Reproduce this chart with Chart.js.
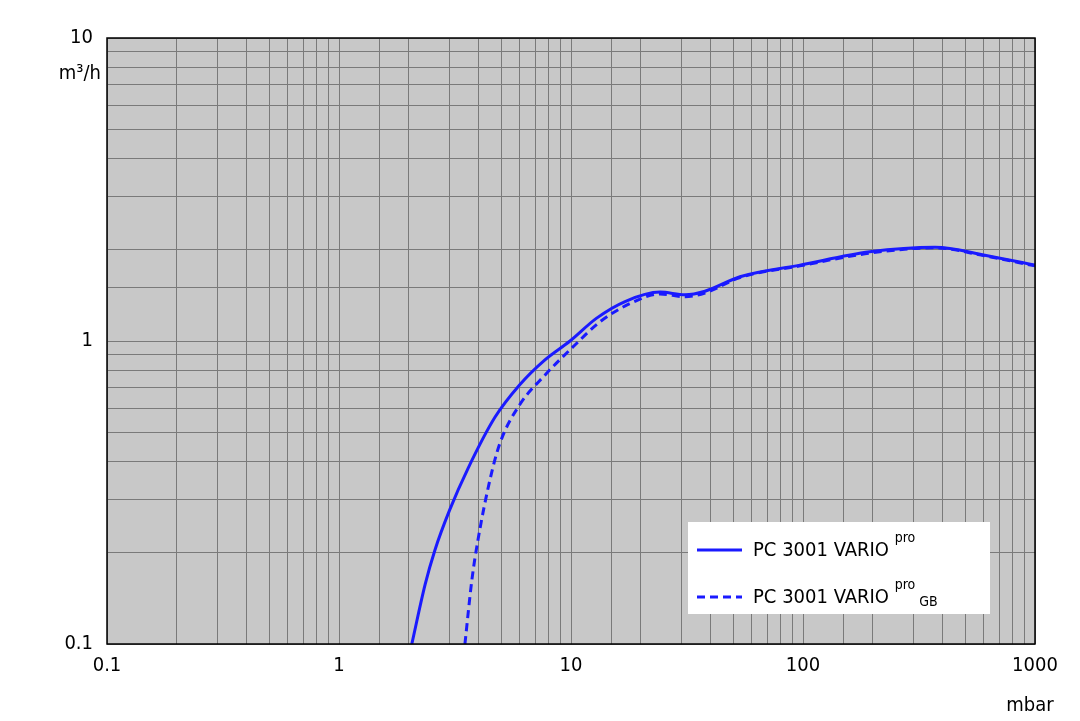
<!DOCTYPE html>
<html><head><meta charset="utf-8">
<script src="https://cdn.jsdelivr.net/npm/chart.js@4"></script>
<style>html,body{margin:0;background:#fff}#w{width:1080px;height:721px}</style>
</head><body><div id="w"><canvas id="c"></canvas></div>
<script>
const solidX=[2.06,2.35,2.59,3.0,3.6,4.7,6.0,7.7,9.9,12.9,17.1,24.2,31,37.8,53.5,97,194,371,608,1000];
const solidY=[0.1,0.157,0.204,0.277,0.38,0.56,0.716,0.865,1.0,1.19,1.35,1.45,1.42,1.46,1.63,1.78,1.97,2.04,1.92,1.78];
const gbX=[3.49,3.74,3.97,4.48,4.94,6.0,7.7,10.4,13.3,18,24.2,31,37.8,53.5,97,194,371,608,1000];
const gbY=[0.1,0.163,0.22,0.35,0.46,0.615,0.77,0.97,1.155,1.33,1.43,1.40,1.44,1.62,1.77,1.95,2.03,1.91,1.77];
const xTicks=[0.1,1,10,100,1000];
const yTicks=[0.1,1,10];
const FONT='"DejaVu Sans Condensed","Liberation Sans Narrow","DejaVu Sans",sans-serif';
const pts=(xs,ys)=>xs.map((x,i)=>({x,y:ys[i]}));
const deco={id:'deco',
 beforeDraw(ch){const a=ch.chartArea,c=ch.ctx;c.save();c.fillStyle='#c8c8c8';c.fillRect(a.left,a.top,a.right-a.left,a.bottom-a.top);c.restore();},
 afterDraw(ch){const a=ch.chartArea,c=ch.ctx;c.save();
  c.strokeStyle='#000';c.lineWidth=1.5;c.strokeRect(a.left,a.top,a.right-a.left,a.bottom-a.top);
  c.fillStyle='#000';c.font='20px '+FONT;c.textAlign='right';c.textBaseline='middle';
  c.fillText('m³/h',a.left-6,a.top+36);
  c.textAlign='center';c.fillText('mbar',a.right-5,a.bottom+62);
  const bx=688,by=522,bw=302,bh=92;c.fillStyle='#fff';c.fillRect(bx,by,bw,bh);
  c.strokeStyle='#1a1aff';c.lineWidth=3;
  c.beginPath();c.moveTo(697,550);c.lineTo(742,550);c.stroke();
  c.setLineDash([8,5]);c.beginPath();c.moveTo(697,597);c.lineTo(742,597);c.stroke();c.setLineDash([]);
  c.fillStyle='#000';c.textAlign='left';c.font='20px '+FONT;
  const t='PC 3001 VARIO ';const w=c.measureText(t).width;
  c.fillText(t,753,551);c.fillText(t,753,598);
  c.font='14px '+FONT;c.fillText('pro',753+w,538);c.fillText('pro',753+w,585);
  c.fillText('GB',753+w+c.measureText('pro ').width,602);
  c.restore();}};
new Chart(document.getElementById('c'),{type:'scatter',
 data:{datasets:[
  {data:pts(solidX,solidY),showLine:true,borderColor:'#1a1aff',borderWidth:3,pointRadius:0,cubicInterpolationMode:'monotone'},
  {data:pts(gbX,gbY),showLine:true,borderColor:'#1a1aff',borderWidth:3,borderDash:[8,5],pointRadius:0,cubicInterpolationMode:'monotone'}]},
 options:{responsive:true,maintainAspectRatio:false,animation:false,
  layout:{padding:{left:0,right:45,top:38,bottom:0}},
  plugins:{legend:{display:false},tooltip:{enabled:false}},
  scales:{
   x:{type:'logarithmic',min:0.1,max:1000,afterFit(s){s.height=77;},
    grid:{color:'#7a7a7a',lineWidth:1,drawTicks:false},border:{display:false},
    ticks:{color:'#000',font:{size:20,family:FONT},padding:10,maxRotation:0,autoSkip:false,
     callback:(v)=>xTicks.includes(Number(v))?String(Number(v)):''}},
   y:{type:'logarithmic',min:0.1,max:10,afterFit(s){s.width=107;},
    grid:{color:'#7a7a7a',lineWidth:1,drawTicks:false},border:{display:false},
    ticks:{color:'#000',font:{size:20,family:FONT},padding:14,autoSkip:false,
     callback:(v)=>yTicks.includes(Number(v))?String(Number(v)):''}}}},
 plugins:[deco]});
</script></body></html>
